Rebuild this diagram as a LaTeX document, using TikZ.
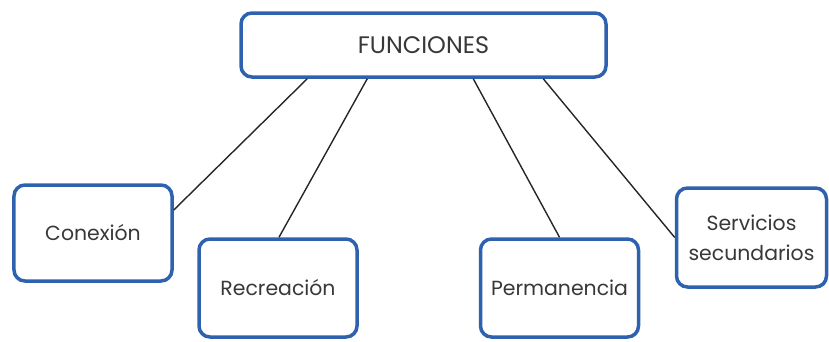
\documentclass[tikz,border=0pt]{standalone}
\usepackage{fontspec}
\setmainfont{Poppins}
\definecolor{boxblue}{HTML}{2F62AE}
\definecolor{txt}{HTML}{383838}
\begin{document}
\begin{tikzpicture}[x=1bp,y=-1bp,
  box/.style={draw=boxblue,line width=3.5bp,rounded corners=11bp,fill=white,
    text=txt,align=center,inner sep=0pt,font=\fontsize{20.5}{30}\selectfont},
  link/.style={draw=black!85,line width=1.4bp}]
\useasboundingbox (0,0) rectangle (829,341);
\node[box,minimum width=365bp,minimum height=64bp,font=\fontsize{24}{28}\selectfont] (f) at (423.5,45) {FUNCIONES};
\node[box,minimum width=158bp,minimum height=96bp] (c) at (93,233) {Conexión};
\node[box,minimum width=158bp,minimum height=98bp] (r) at (278,288) {Recreación};
\node[box,minimum width=158bp,minimum height=98bp] (p) at (559.5,288) {Permanencia};
\node[box,minimum width=150bp,minimum height=99bp] (s) at (751.5,237.5) {Servicios\\secundarios};
\draw[link] ([xshift=68bp]f.south west) -- ([yshift=23bp]c.east);
\draw[link] ([xshift=128bp]f.south west) -- ([xshift=1bp]r.north);
\draw[link] ([xshift=234bp]f.south west) -- (p.north);
\draw[link] ([xshift=304bp]f.south west) -- (s.west);
\end{tikzpicture}
\end{document}
